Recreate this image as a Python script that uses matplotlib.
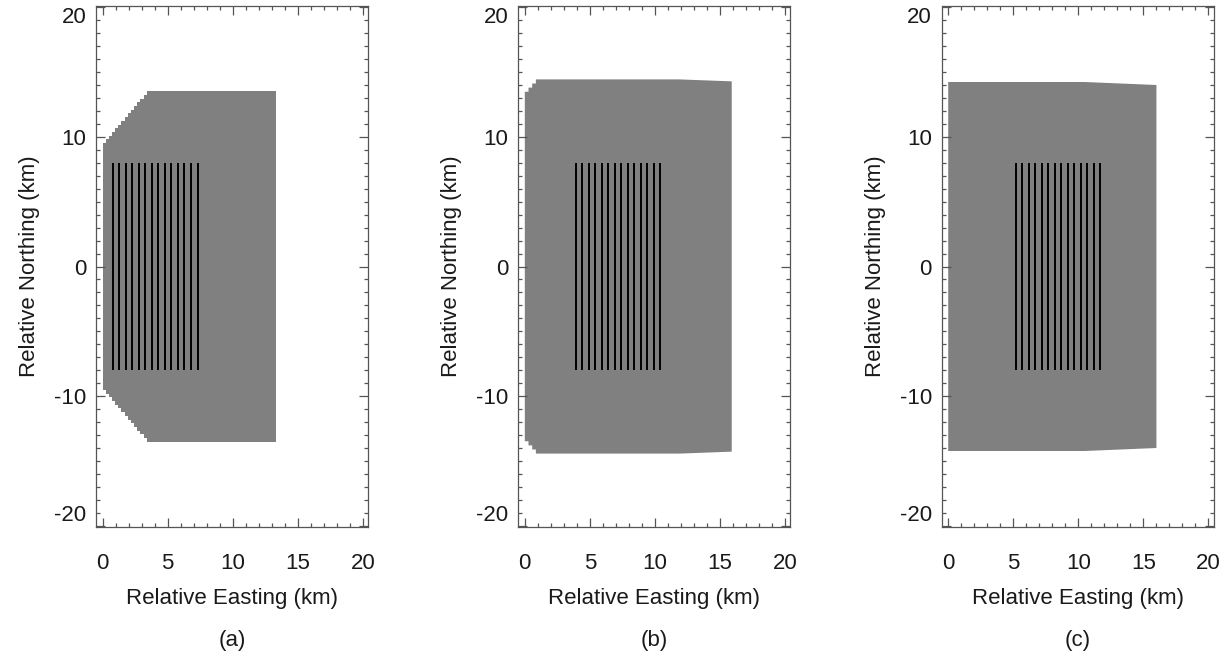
import matplotlib
matplotlib.use("Agg")
import matplotlib.pyplot as plt
from matplotlib.patches import Polygon
from matplotlib.ticker import MultipleLocator

plt.rcParams['font.family'] = ['Liberation Sans', 'DejaVu Sans']
plt.rcParams['axes.unicode_minus'] = False

# Contorno da área modelada (km), sentido horário a partir da borda oeste
east_a = [0.0, 3.4, 13.3, 13.3, 3.4, 0.0]
north_a = [9.5, 13.5, 13.5, -13.5, -13.5, -9.5]
east_b = [0.0, 0.85, 11.9, 15.9, 15.9, 11.9, 0.85, 0.0]
north_b = [13.45, 14.4, 14.4, 14.25, -14.25, -14.4, -14.4, -13.45]
east_c = [0.0, 10.5, 16.0, 16.0, 10.5, 0.0]
north_c = [14.2, 14.2, 13.97, -13.97, -14.2, -14.2]

# arestas desenhadas em degraus (células da grade)
steps_a = {0: 'h', 4: 'v'}
steps_b = {0: 'h', 6: 'v'}
steps_c = {}

# posição (leste) de cada fileira de turbinas, km
rows_a = [0.8, 1.3, 1.8, 2.3, 2.8, 3.3, 3.8, 4.3, 4.8, 5.3, 5.8, 6.3, 6.8, 7.3]
rows_b = [3.9, 4.4, 4.9, 5.4, 5.9, 6.4, 6.9, 7.4, 7.9, 8.4, 8.9, 9.4, 9.9, 10.4]
rows_c = [5.2, 5.7, 6.2, 6.7, 7.2, 7.7, 8.2, 8.7, 9.2, 9.7, 10.2, 10.7, 11.2, 11.7]
row_south = -8.0
row_north = 8.0

panel_labels = ['(a)', '(b)', '(c)']
x_ticks = [0, 5, 10, 15, 20]
y_ticks = [-20, -10, 0, 10, 20]


def contorno(xs, ys, steps, cell=0.25):
    pts = []
    n = len(xs)
    for i in range(n):
        x0, y0 = xs[i], ys[i]
        x1, y1 = xs[(i + 1) % n], ys[(i + 1) % n]
        pts.append((x0, y0))
        if i in steps:
            k = max(1, int(round(abs(x1 - x0) / cell)))
            for j in range(1, k + 1):
                xp = x0 + (x1 - x0) * (j - 1) / k
                xj = x0 + (x1 - x0) * j / k
                yp = y0 + (y1 - y0) * (j - 1) / k
                yj = y0 + (y1 - y0) * j / k
                if steps[i] == 'h':
                    pts += [(xj, yp), (xj, yj)]
                else:
                    pts += [(xp, yj), (xj, yj)]
    return pts


fig = plt.figure(figsize=(12.28, 6.61), dpi=100)

lefts = [96, 518.3, 941.7]
W, H = 1228, 661
paineis = [(east_a, north_a, steps_a, rows_a),
           (east_b, north_b, steps_b, rows_b),
           (east_c, north_c, steps_c, rows_c)]

for left, (ex, ny, st, rows), lab in zip(lefts, paineis, panel_labels):
    ax = fig.add_axes([left / W, (H - 527) / H, 272 / W, 521 / H])
    ax.add_patch(Polygon(contorno(ex, ny, st), closed=True,
                         facecolor='#808080', edgecolor='none'))
    ax.vlines(rows, row_south, row_north, color='black', linewidth=1.4)

    ax.set_xlim(-0.5, 20.4)
    ax.set_ylim(-20.05, 20.05)
    ax.set_xticks(x_ticks)
    ax.set_yticks(y_ticks)
    ax.xaxis.set_minor_locator(MultipleLocator(1))
    ax.yaxis.set_minor_locator(MultipleLocator(1))
    ax.tick_params(which='both', direction='in', top=True, right=True,
                   color='#555555', labelsize=16, labelcolor='#1a1a1a')
    ax.tick_params(which='major', length=6.5, width=0.9)
    ax.tick_params(which='minor', length=3, width=0.9)
    ax.tick_params(axis='x', pad=19)
    ax.tick_params(axis='y', pad=7)
    ylabs = ax.get_yticklabels()
    ylabs[0].set_va('bottom')
    ylabs[-1].set_va('top')
    for s in ax.spines.values():
        s.set_color('#555555')
        s.set_linewidth(0.9)

    ax.set_xlabel('Relative Easting (km)', fontsize=16, color='#1a1a1a', labelpad=10)
    ax.set_ylabel('Relative Northing (km)', fontsize=16, color='#1a1a1a', labelpad=10)
    ax.text(0.5, -0.218, lab, transform=ax.transAxes, ha='center', va='center',
            fontsize=16, color='#1a1a1a')

fig.savefig('out.png', dpi=100)
